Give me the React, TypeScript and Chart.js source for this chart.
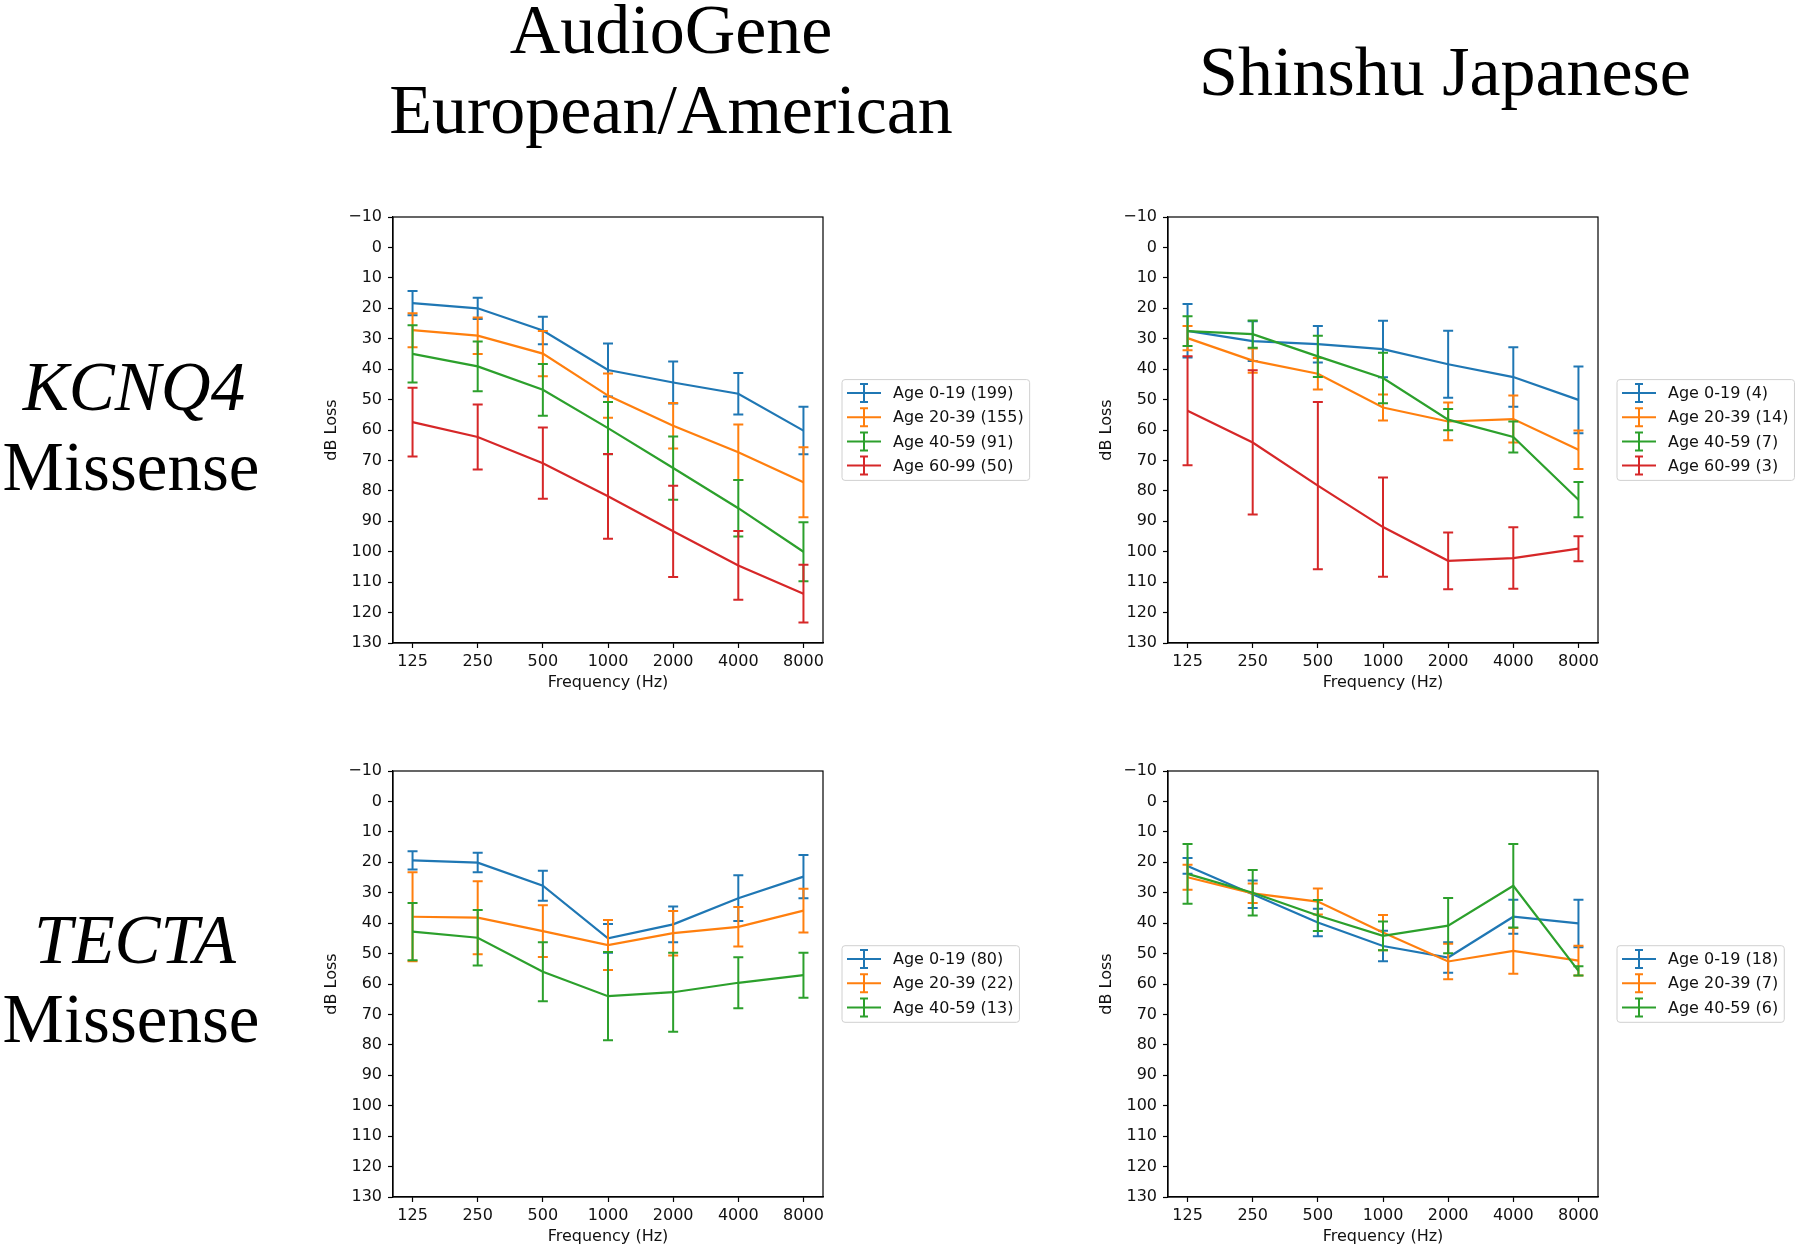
import React, { useEffect, useRef } from 'react';
import { Chart, registerables } from 'chart.js';

Chart.register(...registerables);

// ---------- data ----------
const FREQ_LABELS = ['125', '250', '500', '1000', '2000', '4000', '8000'];
const COLORS = ['#1f77b4', '#ff7f0e', '#2ca02c', '#d62728'];

// KCNQ4 Missense – AudioGene European/American
const KA_LABELS = ['Age 0-19 (199)', 'Age 20-39 (155)', 'Age 40-59 (91)', 'Age 60-99 (50)'];
const KA_0_19 = [18.3, 20.0, 27.3, 40.3, 44.4, 48.1, 60.2];
const KA_0_19_ERR = [4.0, 3.5, 4.5, 8.7, 6.9, 6.8, 7.8];
const KA_20_39 = [27.2, 29.0, 34.9, 48.7, 58.6, 67.3, 77.2];
const KA_20_39_ERR = [5.6, 6.0, 7.4, 7.3, 7.5, 9.1, 11.5];
const KA_40_59 = [35.0, 39.1, 46.8, 59.4, 72.5, 85.7, 100.0];
const KA_40_59_ERR = [9.4, 8.2, 8.5, 8.6, 10.4, 9.3, 9.7];
const KA_60_99 = [57.4, 62.3, 70.9, 81.8, 93.3, 104.5, 113.8];
const KA_60_99_ERR = [11.3, 10.7, 11.7, 13.9, 15.0, 11.3, 9.5];

// KCNQ4 Missense – Shinshu Japanese
const KS_LABELS = ['Age 0-19 (4)', 'Age 20-39 (14)', 'Age 40-59 (7)', 'Age 60-99 (3)'];
const KS_0_19 = [27.4, 30.8, 31.8, 33.4, 38.4, 42.6, 50.1];
const KS_0_19_ERR = [8.8, 6.5, 6.0, 9.3, 11.0, 9.8, 11.0];
const KS_20_39 = [29.8, 37.2, 41.5, 52.6, 57.2, 56.4, 66.5];
const KS_20_39_ERR = [4.0, 4.0, 5.2, 4.3, 6.2, 7.7, 6.3];
const KS_40_59 = [27.5, 28.5, 35.8, 42.9, 56.6, 62.3, 82.9];
const KS_40_59_ERR = [4.9, 4.5, 6.8, 8.3, 3.5, 5.1, 5.8];
const KS_60_99 = [53.7, 64.1, 78.3, 91.9, 103.0, 102.1, 99.0];
const KS_60_99_ERR = [17.9, 23.7, 27.5, 16.3, 9.3, 10.1, 4.1];

// TECTA Missense – AudioGene European/American
const TA_LABELS = ['Age 0-19 (80)', 'Age 20-39 (22)', 'Age 40-59 (13)'];
const TA_0_19 = [19.4, 20.1, 27.7, 45.0, 40.4, 31.8, 24.7];
const TA_0_19_ERR = [3.0, 3.2, 4.9, 4.7, 5.9, 7.5, 7.1];
const TA_20_39 = [37.9, 38.2, 42.6, 47.2, 43.3, 41.2, 35.9];
const TA_20_39_ERR = [14.6, 12.0, 8.5, 8.2, 7.3, 6.5, 7.2];
const TA_40_59 = [42.8, 44.8, 56.0, 64.0, 62.7, 59.6, 57.1];
const TA_40_59_ERR = [9.4, 9.1, 9.7, 14.5, 13.0, 8.4, 7.4];

// TECTA Missense – Shinshu Japanese
const TS_LABELS = ['Age 0-19 (18)', 'Age 20-39 (7)', 'Age 40-59 (6)'];
const TS_0_19 = [21.2, 30.5, 39.8, 47.5, 51.3, 37.9, 40.1];
const TS_0_19_ERR = [2.6, 4.5, 4.5, 5.0, 5.0, 5.6, 7.8];
const TS_20_39 = [24.9, 30.2, 32.9, 43.1, 52.6, 49.1, 52.3];
const TS_20_39_ERR = [4.1, 3.2, 4.3, 5.8, 5.8, 7.5, 4.9];
const TS_40_59 = [23.8, 30.0, 37.5, 44.2, 40.8, 27.7, 55.7];
const TS_40_59_ERR = [9.8, 7.5, 5.1, 4.7, 9.1, 13.7, 1.5];

const Y_MIN = -10;
const Y_MAX = 130;
const Y_STEP = 10;

// ---------- styles ----------
const SANS = "'DejaVu Sans', sans-serif";
const FONT_SIZE = 16;
const TEXT_COLOR = '#111';
const SERIF = "'Liberation Serif', 'Times New Roman', serif";

type Series = { label: string; values: number[]; errs: number[] };

const errorBarPlugin = {
  id: 'errbars',
  afterDatasetDraw(chart: any, args: any) {
    const ds = chart.data.datasets[args.index];
    const errs: number[] = ds.errors;
    if (!errs) return;
    const xs = chart.scales.x;
    const ys = chart.scales.y;
    const ctx = chart.ctx;
    ctx.save();
    ctx.strokeStyle = ds.borderColor;
    ctx.lineWidth = 2;
    ds.data.forEach((p: any, i: number) => {
      const x = xs.getPixelForValue(p.x);
      const y1 = ys.getPixelForValue(p.y - errs[i]);
      const y2 = ys.getPixelForValue(p.y + errs[i]);
      ctx.beginPath();
      ctx.moveTo(x, y1);
      ctx.lineTo(x, y2);
      ctx.moveTo(x - 5, y1);
      ctx.lineTo(x + 5, y1);
      ctx.moveTo(x - 5, y2);
      ctx.lineTo(x + 5, y2);
      ctx.stroke();
    });
    ctx.restore();
  },
};

const frameLegendPlugin = {
  id: 'frameLegend',
  afterDraw(chart: any) {
    const ca = chart.chartArea;
    const ctx = chart.ctx;
    ctx.save();
    // full box frame
    ctx.strokeStyle = '#000';
    ctx.lineWidth = 1.2;
    ctx.strokeRect(ca.left, ca.top, ca.right - ca.left, ca.bottom - ca.top);

    // legend
    const items = chart.data.datasets;
    ctx.font = `${FONT_SIZE}px ${SANS}`;
    const maxW = Math.max(...items.map((d: any) => ctx.measureText(d.label).width));
    const rowH = 24.2;
    const h = items.length * rowH + 4;
    const w = 51 + maxW + 6;
    const left = ca.right + 19;
    const top = (ca.top + ca.bottom) / 2 - h / 2;
    ctx.beginPath();
    const r = 3;
    ctx.moveTo(left + r, top);
    ctx.lineTo(left + w - r, top);
    ctx.arcTo(left + w, top, left + w, top + r, r);
    ctx.lineTo(left + w, top + h - r);
    ctx.arcTo(left + w, top + h, left + w - r, top + h, r);
    ctx.lineTo(left + r, top + h);
    ctx.arcTo(left, top + h, left, top + h - r, r);
    ctx.lineTo(left, top + r);
    ctx.arcTo(left, top, left + r, top, r);
    ctx.closePath();
    ctx.fillStyle = 'rgba(255,255,255,0.8)';
    ctx.fill();
    ctx.strokeStyle = '#d0d0d0';
    ctx.lineWidth = 1;
    ctx.stroke();

    items.forEach((d: any, i: number) => {
      const cy = top + 13.4 + i * rowH;
      ctx.strokeStyle = d.borderColor;
      ctx.lineWidth = 2;
      ctx.beginPath();
      ctx.moveTo(left + 5, cy);
      ctx.lineTo(left + 39, cy);
      const cx = left + 22;
      ctx.moveTo(cx, cy - 9);
      ctx.lineTo(cx, cy + 9);
      ctx.moveTo(cx - 4, cy - 9);
      ctx.lineTo(cx + 4, cy - 9);
      ctx.moveTo(cx - 4, cy + 9);
      ctx.lineTo(cx + 4, cy + 9);
      ctx.stroke();
      ctx.fillStyle = TEXT_COLOR;
      ctx.textAlign = 'left';
      ctx.textBaseline = 'middle';
      ctx.fillText(d.label, left + 51, cy + 1);
    });
    ctx.restore();
  },
};

type PanelProps = {
  left: number;
  top: number;
  width: number;
  height: number;
  padRight: number;
  series: Series[];
};

function Panel({ left, top, width, height, padRight, series }: PanelProps) {
  const ref = useRef<HTMLCanvasElement | null>(null);
  useEffect(() => {
    if (!ref.current) return;
    const n = series.length;
    const font = { family: SANS, size: FONT_SIZE };
    const chart = new Chart(ref.current, {
      type: 'line',
      data: {
        datasets: series.map((s, i) => ({
          label: s.label,
          data: s.values.map((v, j) => ({ x: j, y: v })),
          errors: s.errs,
          borderColor: COLORS[i],
          backgroundColor: COLORS[i],
          borderWidth: 2.2,
          pointRadius: 0,
          tension: 0,
          fill: false,
          order: n - i,
        })) as any,
      },
      options: {
        animation: false,
        responsive: false,
        maintainAspectRatio: false,
        devicePixelRatio: 1,
        layout: { padding: { top: 17, right: padRight, left: 0, bottom: 0 } },
        plugins: { legend: { display: false }, tooltip: { enabled: false } },
        scales: {
          x: {
            type: 'linear',
            min: -0.3,
            max: FREQ_LABELS.length - 1 + 0.3,
            afterBuildTicks: (s: any) => {
              s.ticks = FREQ_LABELS.map((_, i) => ({ value: i }));
            },
            afterFit: (s: any) => {
              s.height = height - 443;
            },
            ticks: {
              callback: (v: any) => FREQ_LABELS[Math.round(Number(v))],
              font,
              color: TEXT_COLOR,
              padding: 4,
              autoSkip: false,
              maxRotation: 0,
            },
            grid: {
              display: true,
              drawOnChartArea: false,
              drawTicks: true,
              tickLength: 5,
              tickColor: '#000',
              tickWidth: 1.2,
            },
            border: { display: true, color: '#000', width: 1.2 },
            title: {
              display: true,
              text: 'Frequency (Hz)',
              font,
              color: TEXT_COLOR,
              padding: { top: 0, bottom: 3 },
            },
          },
          y: {
            type: 'linear',
            reverse: true,
            min: Y_MIN,
            max: Y_MAX,
            afterFit: (s: any) => {
              s.width = 93;
            },
            ticks: {
              stepSize: Y_STEP,
              callback: (v: any) => (Number(v) < 0 ? '\u2212' + Math.abs(Number(v)) : String(v)),
              font,
              color: TEXT_COLOR,
              padding: 6,
            },
            grid: {
              display: true,
              drawOnChartArea: false,
              drawTicks: true,
              tickLength: 5,
              tickColor: '#000',
              tickWidth: 1.2,
            },
            border: { display: true, color: '#000', width: 1.2 },
            title: {
              display: true,
              text: 'dB Loss',
              font,
              color: TEXT_COLOR,
              padding: { top: 22, bottom: 0 },
            },
          },
        },
      } as any,
      plugins: [errorBarPlugin, frameLegendPlugin],
    });
    return () => chart.destroy();
  }, []);
  return (
    <canvas
      ref={ref}
      width={width}
      height={height}
      style={{ position: 'absolute', left, top, width, height, display: 'block' }}
    />
  );
}

function mk(labels: string[], vals: number[][], errs: number[][]): Series[] {
  return labels.map((l, i) => ({ label: l, values: vals[i], errs: errs[i] }));
}

const KA = mk(KA_LABELS, [KA_0_19, KA_20_39, KA_40_59, KA_60_99], [KA_0_19_ERR, KA_20_39_ERR, KA_40_59_ERR, KA_60_99_ERR]);
const KS = mk(KS_LABELS, [KS_0_19, KS_20_39, KS_40_59, KS_60_99], [KS_0_19_ERR, KS_20_39_ERR, KS_40_59_ERR, KS_60_99_ERR]);
const TA = mk(TA_LABELS, [TA_0_19, TA_20_39, TA_40_59], [TA_0_19_ERR, TA_20_39_ERR, TA_40_59_ERR]);
const TS = mk(TS_LABELS, [TS_0_19, TS_20_39, TS_40_59], [TS_0_19_ERR, TS_20_39_ERR, TS_40_59_ERR]);

// serif label placed by baseline y and centre x
function SerifText({ text, cx, baseline, size, italic }: { text: string; cx: number; baseline: number; size: number; italic?: boolean }) {
  // Liberation Serif: ascent 0.891, descent 0.216 (em)
  const baseOff = 0.891 * size + (size - 1.107 * size) / 2;
  return (
    <div
      style={{
        position: 'absolute',
        left: cx - 400,
        top: baseline - baseOff,
        width: 800,
        textAlign: 'center',
        fontFamily: SERIF,
        fontSize: size,
        lineHeight: `${size}px`,
        fontStyle: italic ? 'italic' : 'normal',
        color: '#000',
        whiteSpace: 'nowrap',
      }}
    >
      {text}
    </div>
  );
}

export default function App() {
  return (
    <div
      style={{
        position: 'absolute',
        left: 0,
        top: 0,
        width: 1800,
        height: 1251,
        overflow: 'hidden',
        background: '#fff',
      }}
    >
      <SerifText text="AudioGene" cx={671} baseline={54} size={70} />
      <SerifText text="European/American" cx={671} baseline={134} size={70} />
      <SerifText text="Shinshu Japanese" cx={1445} baseline={96} size={70} />
      <SerifText text="KCNQ4" cx={134} baseline={411} size={69} italic />
      <SerifText text="Missense" cx={131} baseline={491} size={69} />
      <SerifText text="TECTA" cx={135} baseline={964} size={69} italic />
      <SerifText text="Missense" cx={131} baseline={1043} size={69} />

      <Panel left={300} top={200} width={760} height={495} padRight={237} series={KA} />
      <Panel left={1075} top={200} width={725} height={495} padRight={202} series={KS} />
      <Panel left={300} top={754} width={760} height={495} padRight={237} series={TA} />
      <Panel left={1075} top={754} width={725} height={495} padRight={202} series={TS} />
    </div>
  );
}
